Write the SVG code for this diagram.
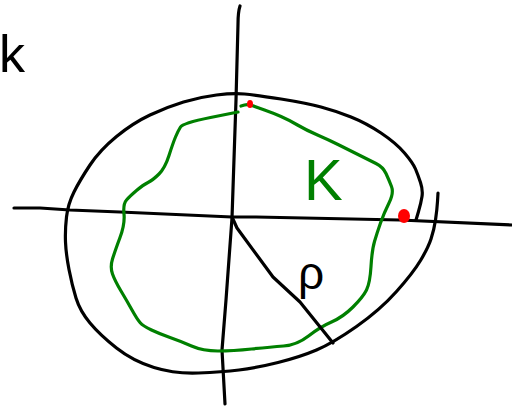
<svg xmlns="http://www.w3.org/2000/svg" width="512" height="408" viewBox="0 0 512 408">
<style>
.ink{fill:none;stroke:#000;stroke-width:3.2;stroke-linecap:round;stroke-linejoin:round}
.grn{fill:none;stroke:#008000;stroke-width:3.2;stroke-linecap:round;stroke-linejoin:round}
.dot{fill:#ff0000}
.lbl{font-family:"Liberation Sans",Arial,sans-serif}
</style>
<rect width="512" height="408" fill="#fff"/>
<g id="axes">
<path class="ink" d="M240,6 Q238,12 238,24 L236,100 L232,218 L226,300 L222,350 L225,404"/>
<path class="ink" d="M14,208 L40,208 L70,210 L120,212 L232,217 L256,217 L400,220 L512,225"/>
</g>
<g id="boundary">
<path class="ink" d="M416,220 L418.5,211.5 Q421,203 422,196.5 Q423,190 420.5,182.5 Q418,175 415.5,169 Q413,163 404.5,153 Q396,143 381,133 Q366,123 351,117 Q336,111 321,107 Q306,103 281,99 Q256,95 244.5,94 Q233,93 216.5,95 Q200,97 183.5,102 Q167,107 150,115 Q133,123 116.5,136.5 Q100,150 90,165 Q80,180 74,192 Q68,204 66.5,217 Q65,230 65.5,242 Q66,254 69,269.5 Q72,285 76,298 Q80,311 90,323 Q100,335 116.5,348 Q133,361 154,367.5 Q175,374 198.5,373 Q222,372 239,370 Q256,368 278,362.5 Q300,357 316.5,350 Q333,343 356.5,326.5 Q380,310 396.5,291.5 Q413,273 420.5,260.5 Q428,248 431,239 Q434,230 435.5,220 Q437,210 437.5,201.5 L438,193"/>
</g>
<g id="curve">
<path class="grn" d="M238,112 L210.5,117.5 Q183,123 180.5,127 Q178,131 175.5,137 Q173,143 169,155.5 Q165,168 159,174 Q153,180 148,182.5 Q143,185 136.5,190.5 Q130,196 126.5,200 Q123,204 124,214 Q125,224 120,237.5 Q115,251 112.5,259 Q110,267 112.5,274 Q115,281 121,291 Q127,301 132,310 Q137,319 140,322.5 Q143,326 151.5,330 Q160,334 170,337.5 Q180,341 191.5,346 Q203,351 218,351 Q233,351 251.5,349 Q270,347 283.5,346 Q297,345 308.5,336 Q320,327 331.5,322 Q343,317 353,307 Q363,297 366.5,290 Q370,283 371,266.5 Q372,250 374.5,241.5 Q377,233 380.5,223 Q384,213 389,203 Q394,193 391.5,186.5 Q389,180 386,173.5 Q383,167 376,163.5 Q369,160 359,155 Q349,150 339,145 Q329,140 317.5,135 Q306,130 297.5,125 Q289,120 281,116.5 Q273,113 264.5,110 Q256,107 252,105.5 Q248,104 244.5,105 L241,106"/>
</g>
<g id="radius">
<path class="ink" d="M232,217 L237,228 L273,277 L300,302 L333,343"/>
</g>
<g id="points">
<ellipse class="dot" cx="250" cy="104" rx="3" ry="4"/>
<ellipse class="dot" cx="404" cy="216" rx="6" ry="7"/>
</g>
<g id="labels">
<text class="lbl" x="-1" y="72" font-size="52" fill="#000">k</text>
<text class="lbl" x="304" y="200" font-size="58" fill="#008000">K</text>
<text class="lbl" x="298" y="289" font-size="46" fill="#000">ρ</text>
</g>
</svg>
